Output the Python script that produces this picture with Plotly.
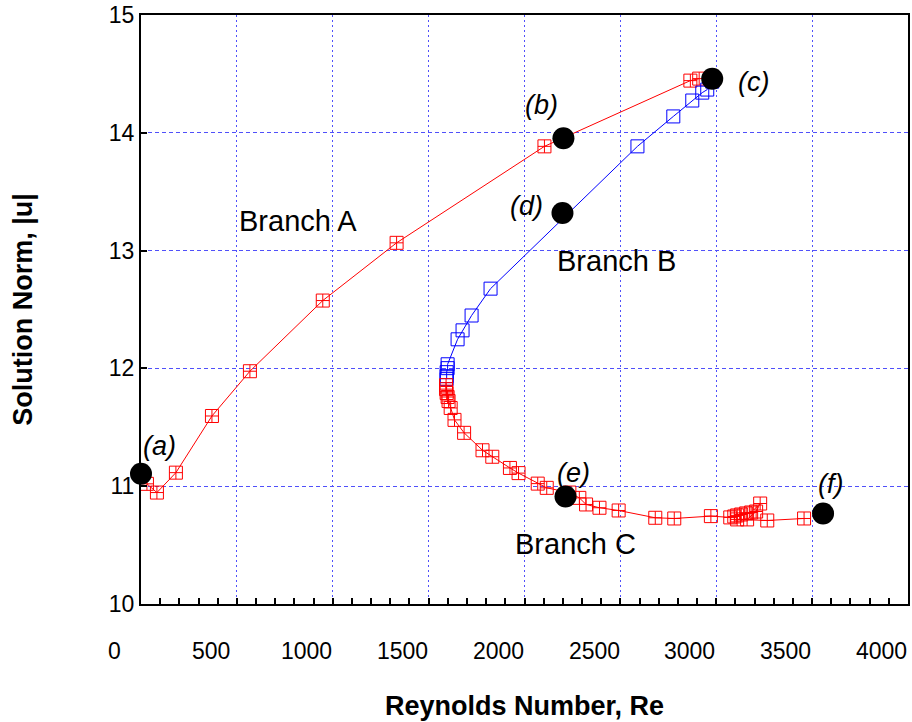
import plotly.graph_objects as go

# ---- data ----
branch_a_re = [31, 83, 182, 370, 568, 948, 1333, 2104, 2865, 2911]
branch_a_norm = [11.02, 10.946, 11.115, 11.596, 11.976, 12.576, 13.066, 13.885, 14.443, 14.46]

branch_b_re = [2979, 2953, 2927, 2875, 2776, 2589, 1823, 1724, 1677, 1651,
               1599, 1599, 1594, 1594, 1594]
branch_b_norm = [14.434, 14.367, 14.341, 14.274, 14.139, 13.885, 12.677, 12.449, 12.323, 12.247,
                 12.035, 12.002, 11.968, 11.934, 11.909]

branch_c_re = [1591, 1591, 1594, 1599, 1604, 1615, 1635, 1685, 1781, 1832,
               1924, 1969, 2069, 2116, 2234, 2286, 2321, 2391, 2491, 2682,
               2781, 2972, 3073, 3094, 3109, 3130, 3156, 3182, 3229, 3208,
               3161, 3109, 3266, 3458]
branch_c_norm = [11.858, 11.824, 11.791, 11.757, 11.723, 11.664, 11.563, 11.453, 11.305, 11.25,
                 11.155, 11.111, 11.022, 10.986, 10.946, 10.901, 10.845, 10.817, 10.794, 10.732,
                 10.726, 10.746, 10.735, 10.743, 10.752, 10.760, 10.769, 10.777, 10.853, 10.785,
                 10.718, 10.718, 10.709, 10.726]

point_re = [0, 2203, 2979, 2198, 2214, 3557]
point_norm = [11.106, 13.953, 14.459, 13.319, 10.912, 10.769]
point_labels = ["(a)", "(b)", "(c)", "(d)", "(e)", "(f)"]

branch_names = ["Branch A", "Branch B", "Branch C"]

x_tick_values = [0, 500, 1000, 1500, 2000, 2500, 3000, 3500, 4000]
x_tick_labels = ["0", "500", "1000", "1500", "2000", "2500", "3000", "3500", "4000"]

# ---- layout helpers (positions / styles) ----
FONT = "Liberation Sans, Arial, sans-serif"
X_MIN, X_MAX = 0, 4000
point_label_pos = [(99, 11.343), (2089, 14.240), (3193, 14.434), (2010, 13.378), (2255, 11.115), (3594, 11.022)]
branch_label_pos = [(818, 13.25), (2479, 12.914), (2266, 10.507)]
LABEL_SHIFT = -137  # tick labels in the reference sit left of their grid lines

fig = go.Figure()

fig.add_trace(go.Scatter(
    x=branch_a_re, y=branch_a_norm, mode="lines+markers",
    line=dict(color="red", width=1),
    marker=dict(symbol="square-cross-open", size=13, color="red", line=dict(width=1)),
    showlegend=False, hoverinfo="skip"))

fig.add_trace(go.Scatter(
    x=branch_b_re, y=branch_b_norm, mode="lines+markers",
    line=dict(color="blue", width=1),
    marker=dict(symbol="square-open", size=13, color="blue", line=dict(width=1)),
    showlegend=False, hoverinfo="skip"))

fig.add_trace(go.Scatter(
    x=branch_c_re, y=branch_c_norm, mode="lines+markers",
    line=dict(color="red", width=1),
    marker=dict(symbol="square-cross-open", size=13, color="red", line=dict(width=1)),
    showlegend=False, hoverinfo="skip"))

fig.add_trace(go.Scatter(
    x=point_re, y=point_norm, mode="markers",
    marker=dict(symbol="circle", size=22, color="black"),
    showlegend=False, hoverinfo="skip", cliponaxis=False))

annotations = []
for lbl, (ax, ay) in zip(point_labels, point_label_pos):
    annotations.append(dict(x=ax, y=ay, xref="x", yref="y", text=f"<i>{lbl}</i>",
                            showarrow=False, xanchor="center", yanchor="middle",
                            font=dict(family=FONT, size=27, color="black")))
for lbl, (ax, ay) in zip(branch_names, branch_label_pos):
    annotations.append(dict(x=ax, y=ay, xref="x", yref="y", text=lbl,
                            showarrow=False, xanchor="center", yanchor="middle",
                            font=dict(family=FONT, size=29, color="black")))
for v, t in zip(x_tick_values, x_tick_labels):
    annotations.append(dict(x=(v + LABEL_SHIFT - X_MIN) / (X_MAX - X_MIN), y=0,
                            xref="paper", yref="paper", text=t,
                            showarrow=False, xanchor="center", yanchor="top", yshift=-32,
                            font=dict(family=FONT, size=23, color="black")))

grid_color = "rgb(80,80,250)"

fig.update_layout(
    width=912, height=722,
    margin=dict(l=140.5, r=3.5, t=14.5, b=117.5),
    paper_bgcolor="white", plot_bgcolor="white",
    font=dict(family=FONT, color="black"),
    annotations=annotations,
    xaxis=dict(
        range=[X_MIN, X_MAX], tickvals=x_tick_values[1:-1], showticklabels=False,
        automargin=False,
        ticks="inside", ticklen=6, tickwidth=2, tickcolor="black",
        minor=dict(dtick=100, tick0=0, ticks="inside", ticklen=6, tickwidth=2,
                   tickcolor="black", showgrid=False),
        showgrid=True, gridcolor=grid_color, gridwidth=1, griddash="2px,3px",
        showline=True, linecolor="black", linewidth=2, mirror=True,
        zeroline=False,
        title=dict(text="<b>Reynolds Number, Re</b>", standoff=91,
                   font=dict(family=FONT, size=27, color="black")),
    ),
    yaxis=dict(
        range=[10, 15], tickvals=[10, 11, 12, 13, 14, 15],
        automargin=False,
        ticks="inside", ticklen=6, tickwidth=2, tickcolor="black",
        tickfont=dict(family=FONT, size=23, color="black"),
        showgrid=True, gridcolor=grid_color, gridwidth=1, griddash="4px,3px",
        showline=True, linecolor="black", linewidth=2, mirror=True,
        zeroline=False,
        title=dict(text="<b>Solution Norm, |u|</b>", standoff=68,
                   font=dict(family=FONT, size=27, color="black")),
    ),
)

fig.write_html("out.html", config={"displayModeBar": False},
               post_script="document.body.style.margin='0';document.body.style.overflow='hidden';")
